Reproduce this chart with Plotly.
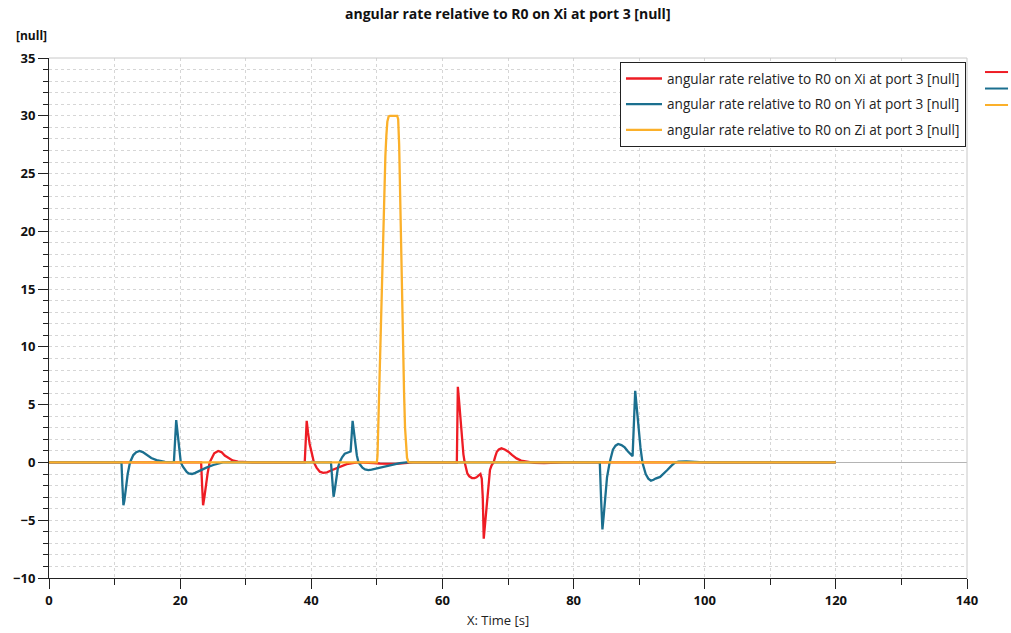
import plotly.graph_objects as go

# Time samples and values for each component of the angular rate
x_time = [0, 23.2, 23.35, 23.5, 23.7, 23.9, 24.2, 24.5, 24.8, 25.2, 25.8, 26.3, 26.8,
          27.4, 28.0, 28.8, 30, 31,
          39.0, 39.3, 39.5, 39.75, 40.06, 40.4, 40.8, 41.3, 41.8, 42.4, 43.0, 43.8,
          44.6, 45.4, 46.3, 47.2, 49.5, 50.5, 53.0, 54.5, 55.5,
          62.2, 62.35, 62.5, 62.7, 63.0, 63.2, 63.4, 63.6, 63.8, 64.1, 64.5, 64.9,
          65.2, 65.5, 65.8, 66.0, 66.15, 66.3, 66.5, 66.75, 67.0, 67.25, 67.5, 67.8,
          68.05, 68.3, 68.6, 69.0, 69.5, 70.05, 70.6, 71.3, 72.0, 72.9, 74.0, 75.5,
          77.0, 78.5, 120]
rate_x = [0, 0, -2.0, -3.7, -3.0, -2.0, -0.9, 0, 0.4, 0.8, 1.0, 0.9, 0.6,
          0.35, 0.18, 0.07, 0.02, 0,
          0, 3.6, 2.6, 1.6, 0.85, 0, -0.45, -0.8, -0.9, -0.85, -0.7, -0.5,
          -0.3, -0.15, -0.05, 0, -0.05, -0.1, -0.12, -0.08, 0,
          0, 6.55, 5.6, 4.25, 1.65, 0.7, 0, -0.5, -0.95, -1.2, -1.35, -1.35,
          -1.29, -1.15, -1.0, -1.4, -3.0, -6.6, -5.4, -3.5, -1.9, -0.65, -0.25, 0,
          0.5, 0.93, 1.13, 1.22, 1.12, 0.93, 0.65, 0.35, 0.16, 0.05, -0.04, -0.05,
          -0.02, 0, 0]

y_time = [0, 11.05, 11.2, 11.35, 11.5, 11.7, 12.0, 12.35, 12.6, 12.86, 13.3, 13.8,
          14.3, 14.9, 15.6, 16.4, 17.0, 17.7, 18.7, 19.05,
          19.4, 19.55, 19.7, 19.9, 20.1, 20.4, 20.7, 21.0, 21.3, 21.8, 22.3, 23.0,
          24.0, 25.06, 26.5, 28, 30,
          43.0, 43.2, 43.4, 43.6, 43.8, 44.05, 44.3, 44.7, 45.1, 45.5, 45.9, 46.0,
          46.3, 46.5, 46.7, 46.95, 47.2, 47.5, 47.8, 48.2, 48.7, 49.2, 49.8, 50.4,
          51.0, 51.7, 52.5, 53.5, 54.5,
          84.0, 84.2, 84.4, 84.6, 84.8, 85.1, 85.5, 85.75, 86.0, 86.4, 86.8, 87.3,
          87.8, 88.3, 88.7, 89.0, 89.4, 89.6, 89.9, 90.2, 90.5, 90.75, 91.0, 91.4,
          91.8, 92.2, 92.5, 93.2, 93.8, 94.3, 94.9, 95.5, 96.0, 96.5, 97.2, 98.5,
          100, 120]
rate_y = [0, 0, -2.0, -3.7, -3.3, -2.3, -1.0, 0, 0.35, 0.64, 0.88, 1.0,
          0.9, 0.64, 0.38, 0.2, 0.1, 0.05, 0.03, 0.05,
          3.67, 2.8, 1.8, 0.8, 0, -0.35, -0.6, -0.82, -0.95, -1.0, -0.9, -0.7,
          -0.45, -0.22, 0, 0.03, 0,
          0, -1.8, -2.97, -2.3, -1.3, -0.5, 0, 0.45, 0.75, 0.85, 0.9, 0.95,
          3.6, 2.6, 1.5, 0.6, 0, -0.28, -0.45, -0.6, -0.66, -0.63, -0.55, -0.45,
          -0.35, -0.25, -0.15, -0.06, 0,
          0, -3.2, -5.8, -4.6, -3.0, -1.3, 0, 0.6, 1.1, 1.45, 1.6, 1.5,
          1.3, 0.95, 0.7, 0.55, 6.2, 4.8, 3.0, 1.3, 0, -0.55, -1.0, -1.4,
          -1.58, -1.5, -1.4, -1.25, -0.95, -0.65, -0.3, 0, 0.07, 0.1, 0.1, 0.05,
          0, 0]

z_time = [0, 50.0, 50.1, 50.25, 50.4, 50.75, 51.1, 51.3, 51.45, 51.6, 51.8, 52.0,
          53.1, 53.25, 53.4, 53.6, 53.8, 54.0, 54.15, 54.3, 54.45, 54.6, 54.8, 55.0, 120]
rate_z = [0, 0, 0.6, 4, 8, 16, 23, 26.5, 28.3, 29.5, 29.95, 30,
          30, 29.7, 27.5, 21, 15.8, 10, 6, 3, 1.2, 0.4, 0.05, 0, 0]

series_names = [
    "angular rate relative to R0 on Xi at port 3 [null]",
    "angular rate relative to R0 on Yi at port 3 [null]",
    "angular rate relative to R0 on Zi at port 3 [null]",
]
series_colors = ["#ee1c24", "#1b6f8f", "#fbb02a"]

chart_title = "angular rate relative to R0 on Xi at port 3 [null]"
x_label = "X: Time [s]"
y_label = "[null]"

fig = go.Figure()
for i, (xs, ys) in enumerate([(x_time, rate_x), (y_time, rate_y), (z_time, rate_z)]):
    fig.add_trace(go.Scatter(
        x=xs, y=ys, mode="lines", name=series_names[i],
        line=dict(color=series_colors[i], width=2.3),
        legendgroup=f"g{i}",
    ))

font_family = "Open Sans"
tick_font = dict(family=font_family, size=13, color="#111111", weight="bold")
grid_col = "#d6d6d6"

fig.update_layout(
    width=1011, height=633,
    margin=dict(l=49, r=44, t=58, b=55),
    paper_bgcolor="white", plot_bgcolor="white",
    showlegend=True,
    legend=dict(
        x=0.622, y=0.992, xanchor="left", yanchor="top",
        bordercolor="#222222", borderwidth=1, bgcolor="white",
        font=dict(family=font_family, size=13.6, color="#222222"),
        tracegroupgap=5, itemwidth=36,
    ),
    xaxis=dict(
        range=[0, 140], dtick=20, tick0=0,
        showline=True, linecolor="#222222", linewidth=1,
        ticks="outside", ticklen=10, tickcolor="#222222",
        tickfont=tick_font,
        showgrid=True, gridcolor=grid_col, griddash="dot", gridwidth=1,
        minor=dict(dtick=10, ticks="outside", ticklen=6, tickcolor="#222222",
                   showgrid=True, gridcolor=grid_col, griddash="dot"),
        zeroline=False,
    ),
    yaxis=dict(
        range=[-10, 35], dtick=5, tick0=0,
        showline=True, linecolor="#222222", linewidth=1,
        ticks="outside", ticklen=10, tickcolor="#222222",
        tickfont=tick_font,
        showgrid=True, gridcolor=grid_col, griddash="dot", gridwidth=1,
        minor=dict(dtick=1, ticks="outside", ticklen=5, tickcolor="#222222",
                   showgrid=True, gridcolor=grid_col, griddash="dot"),
        zeroline=True, zerolinecolor="#b4b4b4", zerolinewidth=1,
    ),
    annotations=[
        dict(text=f"<b>{chart_title}</b>", xref="paper", yref="paper",
             x=0.5, y=1, yshift=45, xanchor="center", yanchor="middle",
             showarrow=False, font=dict(family=font_family, size=14, color="#111111")),
        dict(text=f"<b>{y_label}</b>", xref="paper", yref="paper",
             x=0, y=1, xshift=-35, yshift=23, xanchor="left", yanchor="middle",
             showarrow=False, font=dict(family=font_family, size=12, color="#111111")),
        dict(text=x_label, xref="paper", yref="paper",
             x=0.489, y=0, yshift=-42, xanchor="center", yanchor="middle",
             showarrow=False, font=dict(family=font_family, size=13, color="#222222")),
    ],
)

# light frame on the top and right edges of the plotting area
fig.add_shape(type="line", xref="paper", yref="paper", x0=0, x1=1, y0=1, y1=1,
              line=dict(color="#c8c8c8", width=1))
fig.add_shape(type="line", xref="paper", yref="paper", x0=1, x1=1, y0=0, y1=1,
              line=dict(color="#c8c8c8", width=1))

# colour keys beside the plotting area
for i, c in enumerate(series_colors):
    yk = 0.973 - i * 0.0317
    fig.add_shape(type="line", xref="paper", yref="paper",
                  x0=1.0196, x1=1.0447, y0=yk, y1=yk,
                  line=dict(color=c, width=2))

fig.write_html("out.html")
